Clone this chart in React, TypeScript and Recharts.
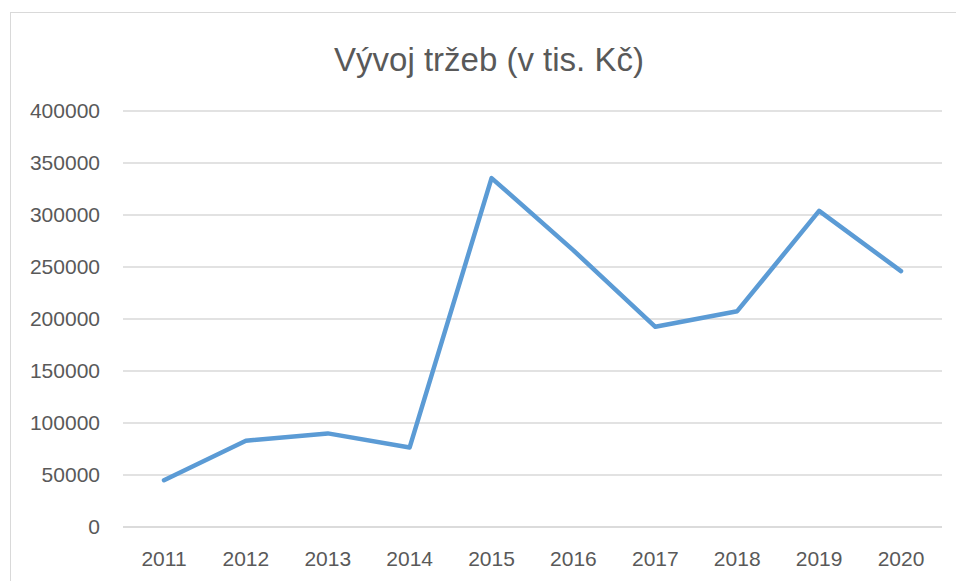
import { LineChart, Line, XAxis, YAxis, CartesianGrid } from 'recharts';

const years = ['2011', '2012', '2013', '2014', '2015', '2016', '2017', '2018', '2019', '2020'];
const trzby = [45000, 83000, 90000, 76500, 335500, 266000, 192500, 207500, 304000, 246000];
const yTicks = [0, 50000, 100000, 150000, 200000, 250000, 300000, 350000, 400000];

const data = years.map((rok, i) => ({ rok, trzby: trzby[i] }));

const font = '"Liberation Sans", Arial, sans-serif';

const App = () => {
    return (
        <div
            style={{
                position: 'absolute',
                left: 0,
                top: 0,
                width: 956,
                height: 581,
                overflow: 'hidden',
                background: '#fff',
                fontFamily: font,
            }}
        >
            <div
                style={{
                    position: 'absolute',
                    left: 10,
                    top: 12,
                    width: 980,
                    height: 600,
                    border: '1px solid #d9d9d9',
                }}
            />
            <div
                style={{
                    position: 'absolute',
                    left: 0,
                    top: 43,
                    width: 978,
                    textAlign: 'center',
                    fontSize: 33,
                    lineHeight: 1,
                    color: '#595959',
                }}
            >
                Vývoj tržeb (v tis. Kč)
            </div>
            <div style={{ position: 'absolute', left: 0, top: 0 }}>
                <LineChart
                    width={956}
                    height={581}
                    data={data}
                    margin={{ top: 111, right: 14, left: 0, bottom: 0 }}
                >
                    <CartesianGrid vertical={false} stroke="#d9d9d9" strokeWidth={1.3} />
                    <XAxis
                        dataKey="rok"
                        height={54}
                        padding={{ left: 41, right: 41 }}
                        tickSize={0}
                        tickMargin={24}
                        axisLine={{ stroke: '#d9d9d9', strokeWidth: 1.3 }}
                        tick={{ fill: '#595959', fontSize: 21, fontFamily: font }}
                    />
                    <YAxis
                        width={123}
                        domain={[0, 400000]}
                        ticks={yTicks}
                        interval={0}
                        tickSize={0}
                        tickMargin={23}
                        axisLine={false}
                        tick={{ fill: '#595959', fontSize: 21, fontFamily: font }}
                    />
                    <Line
                        type="linear"
                        dataKey="trzby"
                        stroke="#5B9BD5"
                        strokeWidth={4.5}
                        strokeLinecap="round"
                        strokeLinejoin="round"
                        dot={false}
                        activeDot={false}
                        isAnimationActive={false}
                    />
                </LineChart>
            </div>
        </div>
    );
};

export default App;
